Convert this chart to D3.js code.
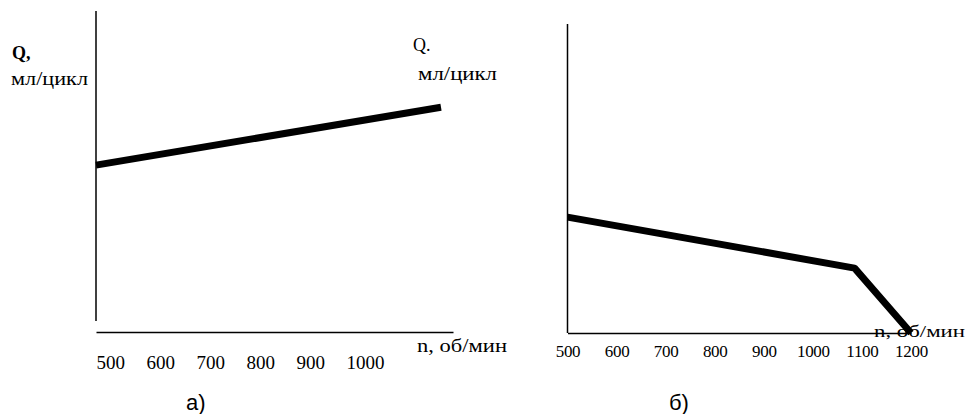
<!DOCTYPE html>
<html>
<head>
<meta charset="utf-8">
<script src="https://cdn.jsdelivr.net/npm/d3@7"></script>
<style>
  body { margin: 0; background: #fff; }
  svg { display: block; }
</style>
</head>
<body>
<svg id="chart" width="966" height="414"></svg>
<script>
var SERIF = "'Liberation Serif', 'Times New Roman', serif";
var SANS = "'Liberation Sans', Arial, sans-serif";

// panel a) - Q grows with n
var ticksA = [500, 600, 700, 800, 900, 1000];
var nA = [500, 1190];
var qA = [5.2, 7.0];

// panel б) - Q falls, then drops after ~1100
var ticksB = [500, 600, 700, 800, 900, 1000, 1100, 1200];
var nB = [500, 1085, 1200];
var qB = [3.75, 2.1, 0];

var svg = d3.select("#chart");

var xA = d3.scaleLinear().domain([500, 1214]).range([96, 453]);
var yA = d3.scaleLinear().domain([0, 10]).range([332, 11]);
var xB = d3.scaleLinear().domain([500, 1200]).range([567.5, 911]);
var yB = d3.scaleLinear().domain([0, 10]).range([333, 24]);

// titles are stretched a bit wider than the font, like in the scan
function label(g, x, y, size, txt, len, family) {
  var t = g.append("text")
      .attr("x", x).attr("y", y)
      .style("font-family", family || SERIF)
      .style("font-size", size + "px")
      .style("fill", "#000")
      .text(txt);
  if (len) t.attr("textLength", len).attr("lengthAdjust", "spacingAndGlyphs");
  return t;
}

// ---- panel a ----
var gA = svg.append("g");
gA.append("line")
    .attr("x1", xA(500)).attr("x2", xA(500))
    .attr("y1", yA(10)).attr("y2", yA(0) - 11)
    .attr("stroke", "#000").attr("stroke-width", 1.5);

var axA = gA.append("g")
    .attr("transform", "translate(0," + yA(0) + ")")
    .call(d3.axisBottom(xA).tickValues(ticksA).tickFormat(d3.format("d")).tickSize(0).tickSizeOuter(0));
axA.select(".domain").attr("stroke-width", 1.5);
axA.selectAll("text")
    .attr("text-anchor", "start")
    .attr("y", 37).attr("dy", 0)
    .style("font-family", SERIF)
    .style("font-size", "19px")
    .style("fill", "#000");

var lineA = d3.line().x(function(d, i) { return xA(nA[i]); }).y(function(d) { return yA(d); });
gA.append("path")
    .attr("d", lineA(qA))
    .attr("fill", "none").attr("stroke", "#000").attr("stroke-width", 7);

label(gA, 12, 59, 18, "Q,").style("font-weight", "bold");
label(gA, 11, 85, 18, "мл/цикл", 77);
label(gA, 413, 51, 18, "Q.");
label(gA, 418, 80, 18, "мл/цикл", 79);
label(gA, 417, 352, 18, "n, об/мин", 90);
label(gA, 186, 410, 22, "а)", null, SANS);

// ---- panel б ----
var gB = svg.append("g");
gB.append("line")
    .attr("x1", xB(500)).attr("x2", xB(500))
    .attr("y1", yB(10)).attr("y2", yB(0))
    .attr("stroke", "#000").attr("stroke-width", 1.5);

var axB = gB.append("g")
    .attr("transform", "translate(0," + yB(0) + ")")
    .call(d3.axisBottom(xB).tickValues(ticksB).tickFormat(d3.format("d")).tickSize(0).tickSizeOuter(0));
axB.select(".domain").attr("stroke-width", 1.5);
axB.selectAll("text")
    .attr("y", 24).attr("dy", 0)
    .style("font-family", SERIF)
    .style("font-size", "17px")
    .style("letter-spacing", "-0.3px")
    .style("fill", "#000");

var lineB = d3.line().x(function(d, i) { return xB(nB[i]); }).y(function(d) { return yB(d); });
gB.append("path")
    .attr("d", lineB(qB))
    .attr("fill", "none").attr("stroke", "#000").attr("stroke-width", 7)
    .attr("stroke-linejoin", "round");

label(gB, 874, 337, 17, "n, об/мин", 91);
label(gB, 669, 410, 22, "б)", null, SANS);
</script>
</body>
</html>
